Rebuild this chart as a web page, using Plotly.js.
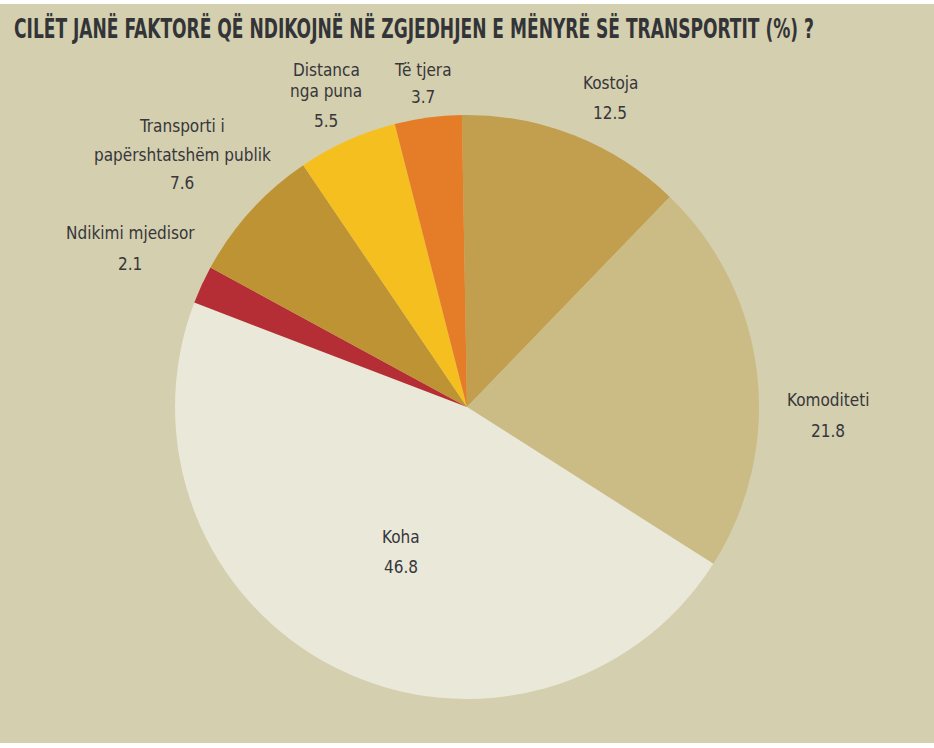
<!DOCTYPE html>
<html>
<head>
<meta charset="utf-8">
<script src="https://cdn.plot.ly/plotly-3.0.1.min.js"></script>
<style>
  html, body { margin: 0; padding: 0; background: #ffffff; }
  #chart { width: 934px; height: 748px; }
</style>
</head>
<body>
<div id="chart"></div>
<script>
// Factors influencing the choice of transport mode (%)
const categories = [
  'Kostoja',
  'Komoditeti',
  'Koha',
  'Ndikimi mjedisor',
  'Transporti i papërshtatshëm publik',
  'Distanca nga puna',
  'Të tjera'
];
const values = [12.5, 21.8, 46.8, 2.1, 7.6, 5.5, 3.7];
const sliceColors = ['#C29F4E', '#CBBB84', '#EAE8D8', '#B52E35', '#BD9333', '#F5BF20', '#E57C27'];

// How each label is broken into lines
const labelLines = [
  ['Kostoja'],
  ['Komoditeti'],
  ['Koha'],
  ['Ndikimi mjedisor'],
  ['Transporti i', 'papërshtatshëm publik'],
  ['Distanca', 'nga puna'],
  ['Të tjera']
];

// Label placement in pixels: centre x, and the centre y of every line (name lines, then value)
const labelCx = [610, 828, 401, 130, 182, 326, 423];
const labelLineY = [
  [83, 113],
  [400, 431],
  [537, 567],
  [233, 264],
  [126, 155, 183],
  [70, 91, 121],
  [70, 97]
];

const W = 934, H = 748;
const pieCx = 467, pieCy = 407, pieR = 292;
const titleLeft = 14, titleWidth = 800;

const labelFont = { family: '"DejaVu Sans Condensed", sans-serif', size: 17, color: '#36363b' };

const annotations = [];
categories.forEach((c, i) => {
  const lines = labelLines[i].concat([values[i].toFixed(1)]);
  lines.forEach((t, k) => {
    annotations.push({
      text: t,
      x: labelCx[i] / W,
      y: 1 - labelLineY[i][k] / H,
      xref: 'paper', yref: 'paper',
      xanchor: 'center', yanchor: 'middle',
      showarrow: false,
      font: labelFont
    });
  });
});

const trace = {
  type: 'pie',
  labels: categories,
  values: values,
  sort: false,
  direction: 'clockwise',
  rotation: -1,
  textinfo: 'none',
  hoverinfo: 'label+value',
  marker: { colors: sliceColors, line: { width: 0 } },
  domain: {
    x: [(pieCx - pieR) / W, (pieCx + pieR) / W],
    y: [1 - (pieCy + pieR) / H, 1 - (pieCy - pieR) / H]
  },
  showlegend: false
};

const layout = {
  width: W,
  height: H,
  margin: { l: 0, r: 0, t: 0, b: 0 },
  paper_bgcolor: '#D4CFAE',
  showlegend: false,
  title: {
    text: 'CILËT JANË FAKTORË QË NDIKOJNË NË ZGJEDHJEN E MËNYRË SË TRANSPORTIT (%) ?',
    x: titleLeft / W, xanchor: 'left', xref: 'paper',
    y: 1 - 29 / H, yanchor: 'middle', yref: 'container',
    font: { family: '"DejaVu Sans Condensed", sans-serif', size: 27, weight: 'bold', color: '#333438' }
  },
  shapes: [
    { type: 'rect', xref: 'paper', yref: 'paper', x0: 0, x1: 1, y0: 1 - 4 / H, y1: 1, fillcolor: '#ffffff', line: { width: 0 } },
    { type: 'rect', xref: 'paper', yref: 'paper', x0: 0, x1: 1, y0: 0, y1: 1 - 743 / H, fillcolor: '#ffffff', line: { width: 0 } }
  ],
  annotations: annotations
};

Plotly.newPlot('chart', [trace], layout, { displayModeBar: false, staticPlot: true }).then(gd => {
  // Condensed headline: squeeze the bold title into its fixed width
  const t = gd.querySelector('.gtitle');
  if (t) {
    t.setAttribute('textLength', titleWidth);
    t.setAttribute('lengthAdjust', 'spacingAndGlyphs');
  }
});
</script>
</body>
</html>
